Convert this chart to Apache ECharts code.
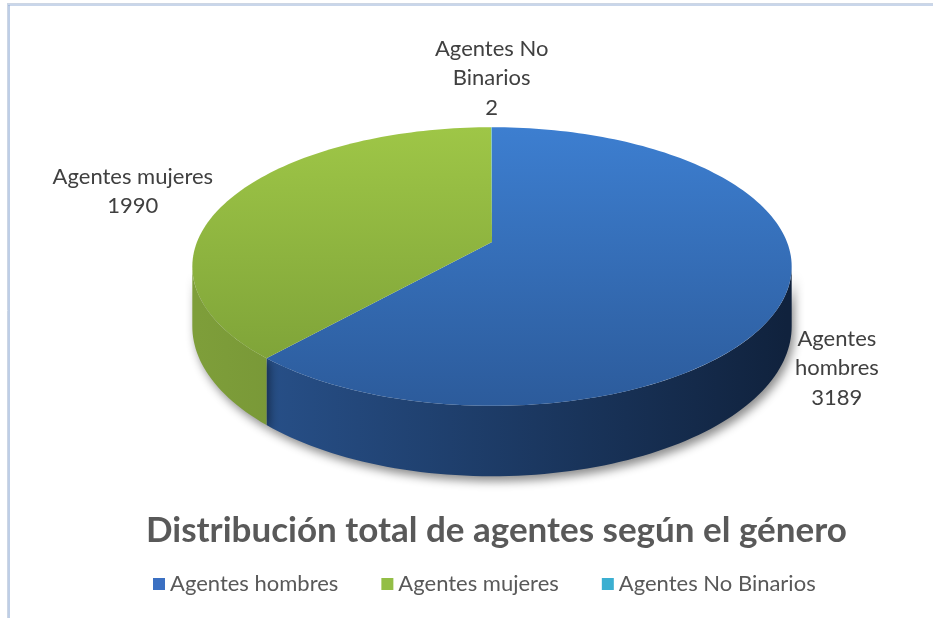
<!DOCTYPE html>
<html>
<head>
<meta charset="utf-8">
<title>Distribución total de agentes según el género</title>
<script src="https://cdn.jsdelivr.net/npm/echarts@6/dist/echarts.min.js"></script>
<style>
  html, body { margin: 0; padding: 0; background: #fff; }
  #chart { width: 933px; height: 618px; }
</style>
</head>
<body>
<div id="chart"></div>
<script>
const categories = ['Agentes hombres', 'Agentes mujeres', 'Agentes No Binarios'];
const values = [3189, 1990, 2];
const chartTitle = 'Distribución total de agentes según el género';

// colours: legend swatch, top face (light -> dark), side wall (light -> dark)
const legendColors = ['#3b70c2', '#93be46', '#3bafd1'];
const topColors = [['#3e81d4', '#2c5b9b'], ['#a1c948', '#799d36'], ['#55b8d4', '#3a98b3']];
const sideColors = [['#2a5591', '#10223d'], ['#7e9e3a', '#587425'], ['#3a98b3', '#2a7488']];

// fake 3D pie: a tilted disc seen in perspective
const CX = 492, CY = 242, RX = 295, RY = 135, K = 0.176, DEPTH = 58;
const total = values.reduce((a, b) => a + b, 0);
const FRONT = Math.acos(-K); // angle where the side wall starts to be visible
const LABEL_FONT = '22px Lato';

function project(theta, s, down) {
  const u = Math.sin(theta) * s, v = Math.cos(theta) * s, w = 1 + K * v;
  return [CX + RX * u / w, CY - RY * v / w + (down ? DEPTH / w : 0)];
}

function arc(a, b, down) {
  const n = Math.max(2, Math.ceil(Math.abs(b - a) * 40));
  const pts = [];
  for (let i = 0; i <= n; i++) pts.push(project(a + (b - a) * i / n, 1, down));
  return pts;
}

// word-wrap a label to a max width, lines centred like Excel does
const measureCtx = document.createElement('canvas').getContext('2d');
function wrapLabel(name, value, maxW) {
  measureCtx.font = LABEL_FONT;
  const words = name.split(' ');
  const lines = [];
  let cur = '';
  words.forEach(w => {
    const test = cur ? cur + ' ' + w : w;
    if (cur && measureCtx.measureText(test).width > maxW) {
      lines.push(cur);
      cur = w;
    } else {
      cur = test;
    }
  });
  lines.push(cur);
  lines.push(String(value));
  const boxW = Math.max.apply(null, lines.map(l => measureCtx.measureText(l).width));
  return { text: lines.join('\n'), width: boxW };
}

function sliceRenderer(idx) {
  return function (params, api) {
    const before = values.slice(0, idx).reduce((a, b) => a + b, 0);
    const start = before / total * Math.PI * 2;
    const end = (before + api.value(0)) / total * Math.PI * 2;
    const children = [];

    // visible part of the outer wall
    const a = Math.max(start, FRONT), b = Math.min(end, Math.PI * 2 - FRONT);
    if (b > a) {
      children.push({
        type: 'polygon',
        z2: 1,
        shape: { points: arc(a, b, false).concat(arc(b, a, true)) },
        style: {
          fill: new echarts.graphic.LinearGradient(CX - RX, 0, CX + RX, 0, [
            { offset: 0, color: sideColors[idx][0] },
            { offset: 1, color: sideColors[idx][1] }
          ], true),
          shadowBlur: 10,
          shadowOffsetX: 3,
          shadowOffsetY: 5,
          shadowColor: 'rgba(0,0,0,0.45)'
        }
      });
    }

    // top face
    children.push({
      type: 'polygon',
      z2: 2,
      shape: { points: [[CX, CY]].concat(arc(start, end, false)) },
      style: {
        fill: new echarts.graphic.LinearGradient(0, CY - RY, 0, CY + 165, [
          { offset: 0, color: topColors[idx][0] },
          { offset: 1, color: topColors[idx][1] }
        ], true)
      }
    });

    // data label, outside the slice
    const mid = (start + end) / 2;
    const u = Math.sin(mid), v = Math.cos(mid);
    const p = project(mid, 1.05, v < 0);
    const side = u > 0.3 ? 'left' : (u < -0.3 ? 'right' : 'center');
    const ax = p[0] - 7;
    const maxW = side === 'center' ? 140 : (side === 'left' ? 933 - ax - 28 : ax - 28);
    const lbl = wrapLabel(categories[idx], api.value(0), maxW);
    const x = side === 'left' ? ax + lbl.width / 2 : (side === 'right' ? ax - lbl.width / 2 : p[0]);
    children.push({
      type: 'text',
      z2: 3,
      x: x,
      y: p[1] + (v < 0 ? 10 : -4 * Math.abs(u)),
      style: {
        text: lbl.text,
        align: 'center',
        verticalAlign: v > 0.7 ? 'bottom' : 'middle',
        fill: '#404040',
        font: LABEL_FONT,
        lineHeight: 29.5
      }
    });
    return { type: 'group', children: children };
  };
}

const chart = echarts.init(document.getElementById('chart'));
chart.setOption({
  animation: false,
  backgroundColor: '#fff',
  title: {
    text: chartTitle,
    left: 141,
    top: 508,
    textStyle: { fontFamily: 'Lato', fontWeight: 'bold', fontSize: 35, color: '#595959' }
  },
  legend: {
    left: 148,
    top: 568,
    icon: 'rect',
    itemWidth: 12,
    itemHeight: 12,
    itemGap: 43,
    textStyle: { fontFamily: 'Lato', fontSize: 22, color: '#595959' },
    data: categories
  },
  graphic: [
    { type: 'line', shape: { x1: 7, y1: 3.5, x2: 933, y2: 3.5 }, style: { stroke: '#cdd6e4', lineWidth: 1 } },
    { type: 'line', shape: { x1: 8, y1: 5, x2: 933, y2: 5 }, style: { stroke: '#93aed6', lineWidth: 1.2 } },
    { type: 'line', shape: { x1: 7.5, y1: 3, x2: 7.5, y2: 618 }, style: { stroke: '#cdd6e4', lineWidth: 1 } },
    { type: 'line', shape: { x1: 9, y1: 5, x2: 9, y2: 618 }, style: { stroke: '#93aed6', lineWidth: 1.2 } }
  ],
  series: categories.map((name, i) => ({
    type: 'custom',
    name: name,
    coordinateSystem: 'none',
    color: legendColors[i],
    itemStyle: { color: legendColors[i] },
    renderItem: sliceRenderer(i),
    data: [values[i]]
  }))
});
</script>
</body>
</html>
